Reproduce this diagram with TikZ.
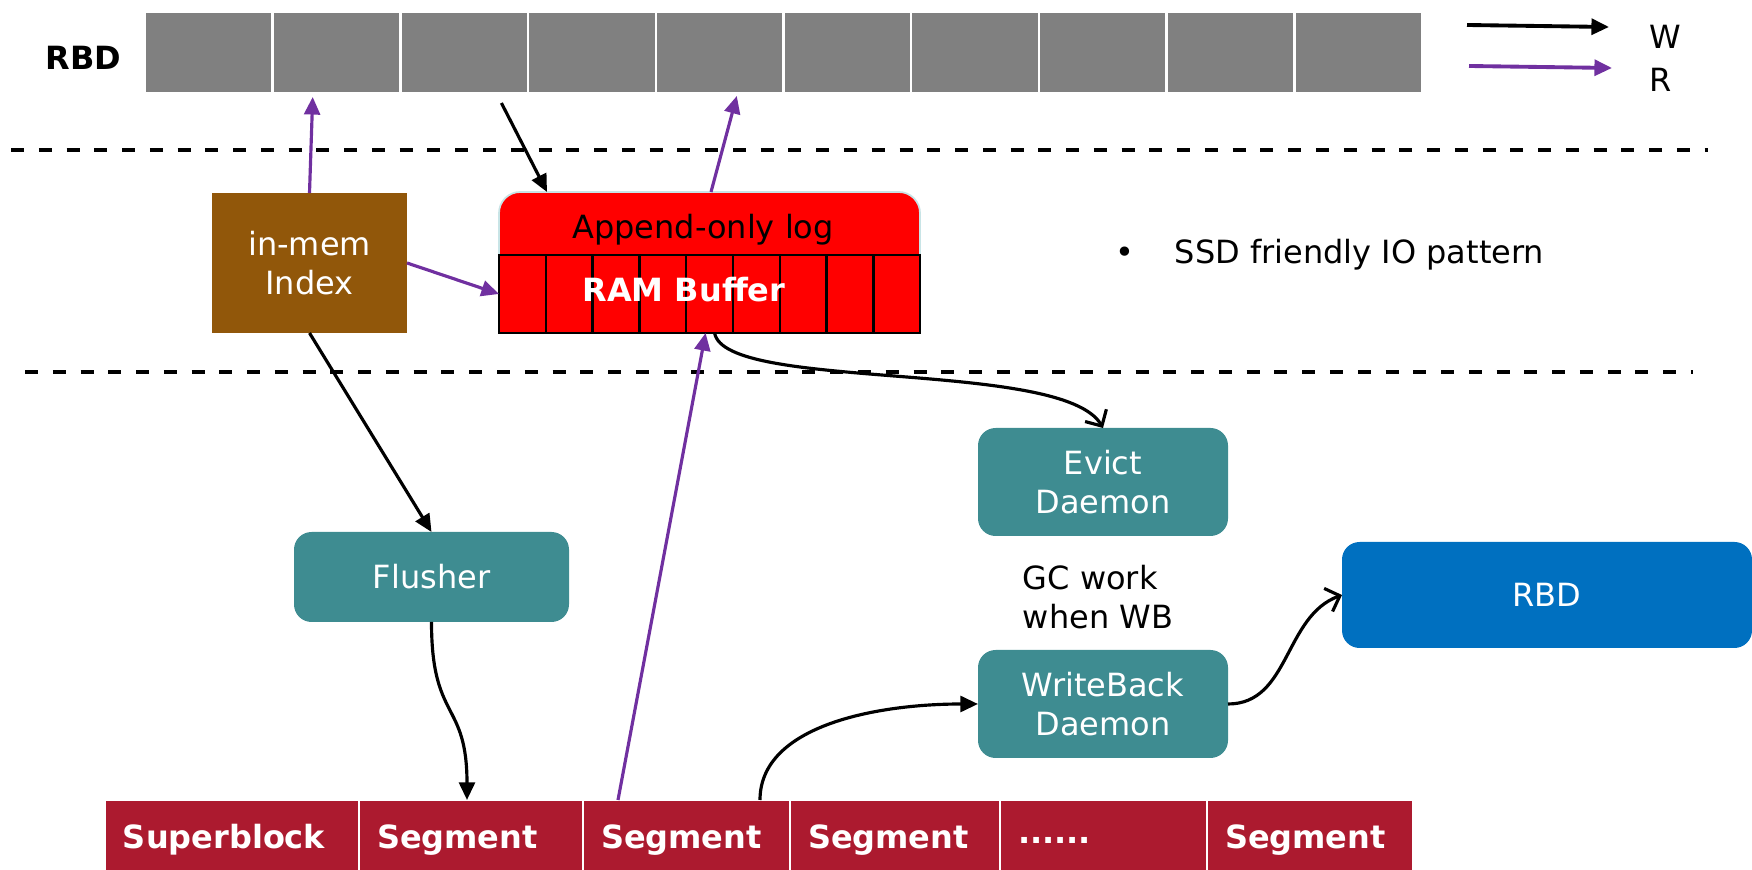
\documentclass[tikz,border=0pt]{standalone}
\usepackage{fontspec}
\setmainfont{DejaVu Sans}
\usepackage{xcolor}
\usetikzlibrary{arrows.meta,positioning,calc}

\definecolor{rbdgray}{RGB}{128,128,128}
\definecolor{idxbrown}{RGB}{145,87,10}
\definecolor{daemonteal}{RGB}{62,140,145}
\definecolor{rbdblue}{RGB}{0,112,192}
\definecolor{segred}{RGB}{172,26,47}
\definecolor{rdpurple}{RGB}{112,48,160}
\definecolor{logedge}{RGB}{200,228,230}

\newcommand{\figfont}{\fontsize{9.1}{11}\selectfont}

\begin{document}
\begin{tikzpicture}[
  every node/.style={font=\figfont, inner sep=0pt, outer sep=0pt},
  wr/.style={-{Triangle[length=5pt,width=4.5pt]}, line width=0.9pt, black},
  rd/.style={-{Triangle[length=5pt,width=4.5pt]}, line width=0.9pt, rdpurple},
  barb/.style={-{Straight Barb[length=3.5pt,width=7pt]}, line width=0.9pt, black},
  sep/.style={dash pattern=on 3.7pt off 4.2pt, line width=1.1pt},
  rbdcell/.style={fill=rbdgray, draw=white, line width=0.7pt,
    minimum width=1.277cm, minimum height=0.81cm},
  bufcell/.style={fill=red, draw=black, line width=0.7pt,
    minimum width=0.468cm, minimum height=0.78cm},
  daemon/.style={fill=daemonteal, rounded corners=5pt, text=white,
    align=center, minimum width=2.50cm, minimum height=1.08cm},
  segbox/.style={fill=segred, draw=white, line width=0.7pt, text=white,
    font=\figfont\bfseries, text width=#1, align=left,
    inner xsep=0.18cm, minimum height=0.80cm},
]

\useasboundingbox (0,0) rectangle (17.52,-8.70);

% ------------------------
% RBD bar and legend
% ------------------------
\node[font=\figfont\bfseries] (rbdlabel) at (0.835,-0.58) {RBD};
\foreach \i in {1,...,10}{
  \node[rbdcell] (cell\i) at ({1.45+(\i-0.5)*1.277},-0.525) {};
}

\coordinate (wsrc) at (14.67,-0.25);
\coordinate (wdst) at (16.09,-0.27);
\coordinate (rsrc) at (14.69,-0.66);
\coordinate (rdst) at (16.12,-0.68);
\draw[wr, line width=1.1pt] (wsrc) -- (wdst);
\draw[rd, line width=1.1pt] (rsrc) -- (rdst);
\node[anchor=west] (wlabel) at (16.49,-0.37) {W};
\node[anchor=west] (rlabel) at (16.49,-0.80) {R};

% ------------------------
% Layer separators
% ------------------------
\draw[sep] (0.11,-1.50) -- (17.08,-1.50);
\draw[sep] (0.25,-3.72) -- (16.93,-3.72);

% ------------------------
% Cache layer
% ------------------------
\node[fill=idxbrown, text=white, align=center,
  minimum width=1.95cm, minimum height=1.40cm] (idx) at (3.095,-2.63) {in-mem\\Index};

\node[fill=red, draw=logedge, line width=0.5pt, rounded corners=6pt,
  minimum width=4.21cm, minimum height=1.41cm] (log) at (7.095,-2.625) {};
\node (logtxt) at (7.03,-2.30) {Append-only log};
\foreach \i in {1,...,9}{
  \node[bufcell] (buf\i) at ({4.99+(\i-0.5)*0.468},-2.94) {};
}
\node[text=white, font=\figfont\bfseries] (ramtxt) at (6.84,-2.90) {RAM Buffer};

\node[anchor=west] (note) at (11.15,-2.55) {\textbullet\hspace{0.41cm}SSD friendly IO pattern};

% ------------------------
% Daemons
% ------------------------
\node[daemon] (ev) at (11.03,-4.82) {Evict\\Daemon};
\node[daemon, minimum width=2.75cm, minimum height=0.90cm] (fl) at (4.315,-5.77) {Flusher};
\node[align=left] (gc) at (10.98,-5.97) {GC work\\when WB};
\node[daemon] (wb) at (11.03,-7.04) {WriteBack\\Daemon};
\node[fill=rbdblue, rounded corners=5pt, text=white,
  minimum width=4.10cm, minimum height=1.06cm] (rbd) at (15.47,-5.95) {RBD};

% ------------------------
% SSD segments
% ------------------------
\node[segbox=2.18cm, anchor=north west] (sb) at (1.05,-8.00) {Superblock};
\node[segbox=1.88cm, right=0pt of sb] (seg1) {Segment};
\node[segbox=1.71cm, right=0pt of seg1] (seg2) {Segment};
\node[segbox=1.74cm, right=0pt of seg2] (seg3) {Segment};
\node[segbox=1.71cm, right=0pt of seg3] (dots) {......};
\node[segbox=1.70cm, right=0pt of dots] (seg4) {Segment};

% ------------------------
% Data paths
% ------------------------
\draw[rd] (idx.north) -- ([xshift=0.40cm,yshift=-0.04cm]cell2.south west);
\draw[wr] ([xshift=1.01cm,yshift=-0.10cm]cell3.south west) -- ([xshift=0.48cm]log.north west);
\draw[rd] ([xshift=2.12cm]log.north west) -- ([xshift=0.81cm,yshift=-0.03cm]cell5.south west);
\draw[rd] (idx.east) -- (buf1.west);
\draw[wr] (idx.south) -- (fl.north);
\draw[rd] ([xshift=0.35cm]seg2.north west) -- ([xshift=-0.04cm]buf5.south);

\draw[barb] ([xshift=0.05cm]buf5.south) .. controls +(-80:0.6) and +(120:0.8) .. (ev.north);
\draw[wr] (fl.south) .. controls +(0,-1.0) and +(0,1.0) .. ([xshift=-0.04cm]seg1.north);
\draw[wr] ([xshift=-0.30cm]seg2.north east) .. controls +(0,0.75) and +(-1.0,0) .. (wb.west);
\draw[barb] (wb.east) to[out=0, in=200] (rbd.west);

\end{tikzpicture}
\end{document}
